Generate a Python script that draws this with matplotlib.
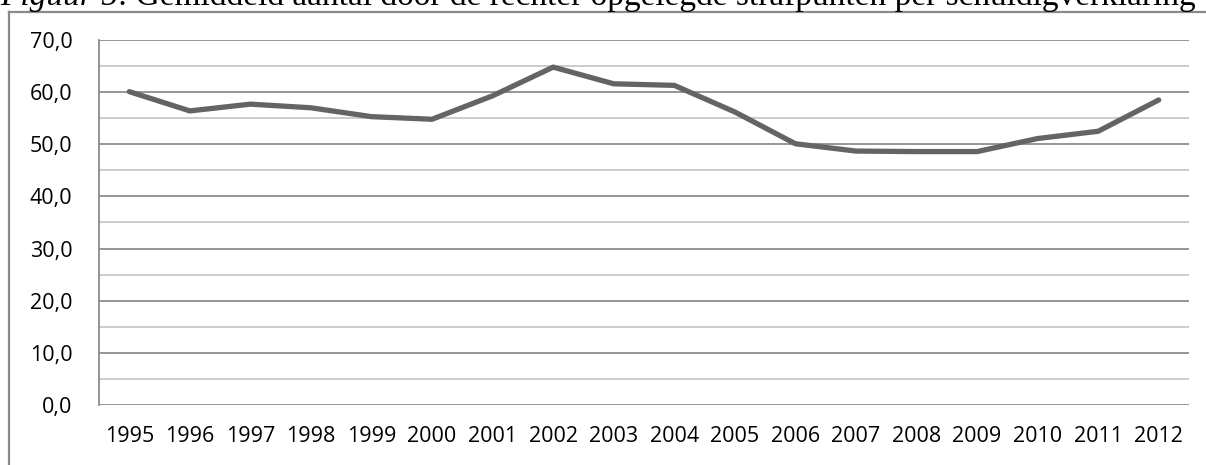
import numpy as np
import matplotlib
matplotlib.use('Agg')
import matplotlib.pyplot as plt
from matplotlib.transforms import offset_copy

years = ['1995', '1996', '1997', '1998', '1999', '2000', '2001', '2002', '2003',
         '2004', '2005', '2006', '2007', '2008', '2009', '2010', '2011', '2012']
values = [60.1, 56.4, 57.7, 57.0, 55.3, 54.8, 59.3, 64.8, 61.6,
          61.3, 56.2, 50.1, 48.7, 48.6, 48.6, 51.1, 52.5, 58.5]
yticks = [0, 10, 20, 30, 40, 50, 60, 70]
ytick_labels = ['0,0', '10,0', '20,0', '30,0', '40,0', '50,0', '60,0', '70,0']

fig = plt.figure(figsize=(12.06, 4.65), dpi=100)

# caption, cut off at the top like in the source document
t1 = fig.text(0.0, 1 - 5 / 465, 'Figuur 5', fontsize=24, family='Liberation Serif',
              style='italic', va='baseline', ha='left')
fig.canvas.draw()
w = t1.get_window_extent().width
fig.text(0.0, 1 - 5 / 465, ': Gemiddeld aantal door de rechter opgelegde strafpunten per schuldigverklaring',
         fontsize=24, family='Liberation Serif', va='baseline', ha='left',
         transform=offset_copy(fig.transFigure, fig=fig, x=w, y=0, units='dots'))

# outer chart frame
fig.add_artist(plt.Line2D([9 / 1206, 9 / 1206], [0, 1 - 12 / 465], transform=fig.transFigure,
                          color='#8a8a8a', lw=1.6))
fig.add_artist(plt.Line2D([9 / 1206, 1], [1 - 12 / 465, 1 - 12 / 465], transform=fig.transFigure,
                          color='#8a8a8a', lw=1.6))

ax = fig.add_axes([99 / 1206, 60 / 465, 1090 / 1206, 365 / 465])
x = np.arange(len(years))

for v in np.arange(5, 70, 10):
    ax.axhline(v, color='#c4c4c4', lw=1.2, zorder=1)
for v in yticks:
    ax.axhline(v, color='#8c8c8c', lw=1.3, zorder=1)

ax.plot(x, values, color='#646464', lw=3.8, solid_capstyle='round', solid_joinstyle='round', zorder=3)

ax.set_xlim(-0.5, len(years) - 0.5)
ax.set_ylim(0, 70)
ax.set_xticks(x)
ax.set_xticklabels(years, fontsize=15.5, family='Open Sans')
ax.set_yticks(yticks)
ax.set_yticklabels(ytick_labels, fontsize=15.5, family='Open Sans')
ax.tick_params(axis='x', length=0, pad=15)
ax.tick_params(axis='y', length=0, pad=19)

for s in ['top', 'right', 'bottom']:
    ax.spines[s].set_visible(False)
ax.spines['left'].set_color('#8c8c8c')
ax.spines['left'].set_linewidth(1.3)

fig.savefig('out.png', dpi=100)
